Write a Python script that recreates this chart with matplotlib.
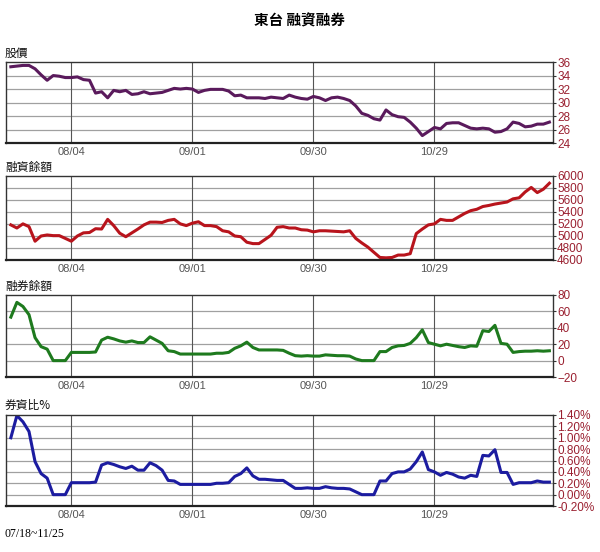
#!/usr/bin/env python3
"""
東台 融資融券 chart - price, margin balance, short balance, short/margin ratio
"""

import matplotlib
matplotlib.use('Agg')
import matplotlib.pyplot as plt
from matplotlib.ticker import FuncFormatter

# Fonts
CJK_FONT = ['Noto Sans CJK TC', 'DejaVu Sans']
NUM_FONT = ['Liberation Sans', 'DejaVu Sans']

# Data (one value per trading day, 07/18 ~ 11/25)
price = [35.3, 35.4, 35.5, 35.5, 35.0, 34.1, 33.3, 34.0, 33.9, 33.7,
         33.7, 33.8, 33.4, 33.3, 31.4, 31.6, 30.7, 31.8, 31.6, 31.8,
         31.2, 31.3, 31.6, 31.3, 31.4, 31.5, 31.8, 32.1, 32.0, 32.1,
         32.0, 31.5, 31.8, 31.95, 31.95, 31.95, 31.7, 31.0, 31.1, 30.7,
         30.7, 30.7, 30.6, 30.8, 30.7, 30.6, 31.1, 30.8, 30.6, 30.5,
         30.9, 30.7, 30.3, 30.7, 30.8, 30.6, 30.3, 29.5, 28.4, 28.1,
         27.6, 27.4, 28.9, 28.2, 27.9, 27.8, 27.1, 26.2, 25.1, 25.7,
         26.3, 26.1, 26.9, 27.0, 27.0, 26.6, 26.2, 26.1, 26.2, 26.1,
         25.6, 25.7, 26.1, 27.1, 26.9, 26.4, 26.5, 26.8, 26.8, 27.1]

margin = [5185, 5133, 5202, 5156, 4913, 5000, 5017, 5006, 5006, 4960,
          4913, 5000, 5052, 5058, 5121, 5116, 5277, 5173, 5046, 4988,
          5052, 5116, 5185, 5231, 5231, 5225, 5260, 5277, 5202, 5173,
          5214, 5237, 5173, 5173, 5156, 5087, 5069, 5000, 4988, 4896,
          4873, 4873, 4942, 5012, 5145, 5156, 5133, 5133, 5104, 5098,
          5069, 5087, 5087, 5081, 5075, 5069, 5087, 4960, 4884, 4815,
          4728, 4642, 4636, 4642, 4682, 4682, 4705, 5040, 5116, 5185,
          5202, 5277, 5260, 5260, 5318, 5376, 5422, 5445, 5491, 5509,
          5532, 5549, 5566, 5619, 5636, 5734, 5809, 5723, 5780, 5879]

short = [53, 71, 66, 56, 28, 17, 14, 0, 0, 0,
         10, 10, 10, 10, 10.5, 25, 28.5, 26.5, 24, 22.5,
         24, 22, 22, 29, 25, 21, 12, 11, 8, 8,
         8, 8, 8, 8, 9, 9, 10, 15, 18, 22.5,
         16, 13, 13, 13, 13, 12.5, 9, 6, 5.5, 6,
         5.5, 5.5, 7, 6.5, 6, 6, 5.5, 2, 0, 0,
         0, 11, 11, 16, 18, 18.5, 21, 28, 37.5, 22,
         20, 18, 20, 18.5, 17, 16, 18, 17.5, 36.5, 35.5,
         43, 21, 20, 10, 11, 11.5, 11.5, 12, 11.5, 12]

ratio = [1.00, 1.39, 1.28, 1.11, 0.58, 0.37, 0.29, 0.00, 0.00, 0.00,
         0.21, 0.21, 0.21, 0.21, 0.22, 0.52, 0.56, 0.53, 0.49, 0.46,
         0.50, 0.43, 0.43, 0.56, 0.51, 0.43, 0.25, 0.24, 0.18, 0.18,
         0.18, 0.18, 0.18, 0.18, 0.20, 0.20, 0.21, 0.32, 0.37, 0.47,
         0.33, 0.27, 0.27, 0.26, 0.25, 0.25, 0.18, 0.11, 0.11, 0.12,
         0.11, 0.11, 0.14, 0.12, 0.11, 0.11, 0.10, 0.05, 0.00, 0.00,
         0.00, 0.24, 0.24, 0.37, 0.40, 0.40, 0.45, 0.58, 0.75, 0.44,
         0.40, 0.34, 0.39, 0.36, 0.31, 0.29, 0.34, 0.32, 0.69, 0.68,
         0.79, 0.39, 0.39, 0.18, 0.21, 0.21, 0.21, 0.24, 0.22, 0.22]

x_tick_pos = [10, 30, 50, 70]
x_tick_labels = ['08/04', '09/01', '09/30', '10/29']

price_ticks = [24, 26, 28, 30, 32, 34, 36]
margin_ticks = [4600, 4800, 5000, 5200, 5400, 5600, 5800, 6000]
short_ticks = [-20, 0, 20, 40, 60, 80]
ratio_ticks = [-0.2, 0.0, 0.2, 0.4, 0.6, 0.8, 1.0, 1.2, 1.4]

# Panel setup: (label, data, ticks, colour, formatter, axes rect)
panels = [
    ('股價', price, price_ticks, '#5a1a5c', None,
     [0.010, 0.7409, 0.9117, 0.1467]),
    ('融資餘額', margin, margin_ticks, '#b8141c', None,
     [0.010, 0.5290, 0.9117, 0.1522]),
    ('融券餘額', short, short_ticks, '#1e7a1e', None,
     [0.010, 0.3170, 0.9117, 0.1486]),
    ('券資比%', ratio, ratio_ticks, '#1c1ca0',
     FuncFormatter(lambda v, p: f'{v:.2f}%'),
     [0.010, 0.0833, 0.9117, 0.1649]),
]

fig = plt.figure(figsize=(6.0, 5.52), dpi=100)
fig.patch.set_facecolor('white')

fig.text(0.5, 0.962, '東台 融資融券', ha='center', va='center',
         fontsize=10.5, fontweight='bold', family=CJK_FONT)

for label, values, ticks, color, fmt, rect in panels:
    ax = fig.add_axes(rect)
    xs = list(range(len(values)))
    ax.plot(xs, values, '-', color=color, linewidth=2.2, solid_joinstyle='round')

    ax.set_xlim(-0.8, 89.6)
    ax.set_ylim(ticks[0], ticks[-1])

    # right side value axis
    ax.yaxis.tick_right()
    ax.set_yticks(ticks)
    if fmt is not None:
        ax.yaxis.set_major_formatter(fmt)
    ax.tick_params(axis='y', length=2, pad=1, labelsize=8.5,
                   labelcolor='#9a2030', color='#333333')
    for t in ax.get_yticklabels():
        t.set_family(NUM_FONT)

    ax.set_xticks(x_tick_pos)
    ax.set_xticklabels(x_tick_labels)
    ax.tick_params(axis='x', length=0, pad=3, labelsize=8, labelcolor='#555555')
    for t in ax.get_xticklabels():
        t.set_family(NUM_FONT)

    # grids: light horizontal, darker vertical
    ax.grid(False)
    for v in ticks[1:-1]:
        ax.axhline(v, color='#a0a0a0', linewidth=0.9, zorder=0)
    for p in x_tick_pos:
        ax.axvline(p, color='#555555', linewidth=0.8, zorder=0)

    for side in ['top', 'left', 'right']:
        ax.spines[side].set_color('#333333')
        ax.spines[side].set_linewidth(1.0)
    ax.spines['bottom'].set_color('#222222')
    ax.spines['bottom'].set_linewidth(1.6)

    # panel caption above the top-left corner
    ax.text(-0.002, 1.03, label, transform=ax.transAxes, ha='left', va='bottom',
            fontsize=8.5, family=CJK_FONT, color='#111111')

fig.text(0.008, 0.032, '07/18~11/25', ha='left', va='center',
         fontsize=8.5, family=['Liberation Serif', 'DejaVu Serif'])

fig.savefig('out.png', dpi=100, facecolor='white')
